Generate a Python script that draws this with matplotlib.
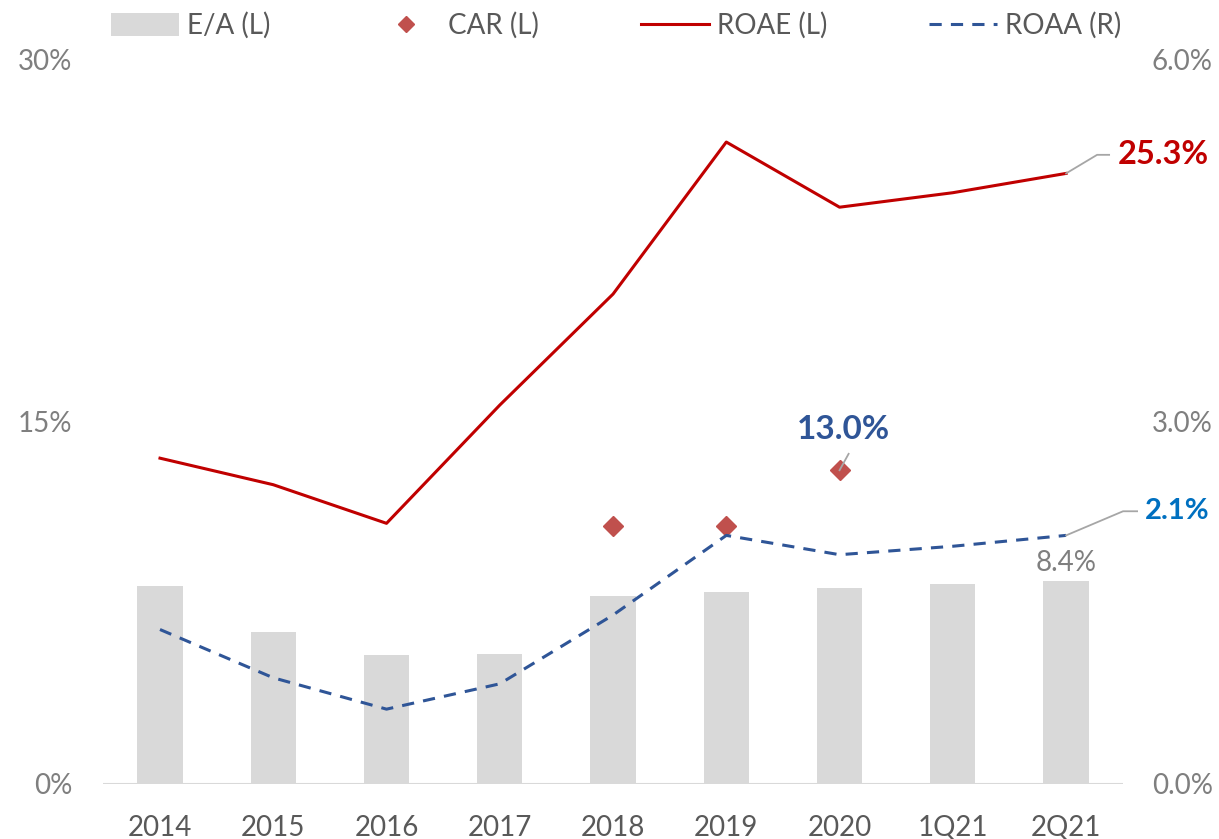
import matplotlib
matplotlib.use("Agg")
import matplotlib.pyplot as plt
from matplotlib.lines import Line2D
from matplotlib.patches import Patch
import numpy as np

plt.rcParams['font.family'] = ['Lato', 'DejaVu Sans']

categories = ["2014", "2015", "2016", "2017", "2018", "2019", "2020", "1Q21", "2Q21"]
ea = [8.2, 6.3, 5.35, 5.4, 7.8, 7.95, 8.1, 8.3, 8.4]
roae = [13.5, 12.4, 10.8, 15.7, 20.3, 26.6, 23.9, 24.5, 25.3]
car = [np.nan, np.nan, np.nan, np.nan, 10.7, 10.7, 13.0, np.nan, np.nan]
roaa = [1.28, 0.88, 0.62, 0.83, 1.40, 2.06, 1.90, 1.97, 2.06]
left_ticks = [0, 15, 30]
left_labels = ["0%", "15%", "30%"]
right_ticks = [0, 3, 6]
right_labels = ["0.0%", "3.0%", "6.0%"]

grey_txt = "#7f7f7f"
fig = plt.figure(figsize=(12.19, 8.39), dpi=100)
ax = fig.add_axes([0.0848, 0.0656, 0.8362, 0.8629])
ax2 = ax.twinx()

x = np.arange(len(categories))
ax.bar(x, ea, width=0.4, color="#d9d9d9", zorder=1)
ax.plot(x, roae, color="#c00000", lw=2.2, zorder=3)
ax.plot(x, car, linestyle="none", marker="D", color="#c0504d", markersize=10, zorder=4)
ax2.plot(x, roaa, color="#2f5597", lw=2.2, linestyle=(0, (4, 3)), zorder=3)

ax.set_xlim(-0.5, len(categories) - 0.5)
ax.set_ylim(0, 30)
ax2.set_ylim(0, 6)
ax.set_yticks(left_ticks)
ax.set_yticklabels(left_labels)
ax2.set_yticks(right_ticks)
ax2.set_yticklabels(right_labels)
ax.set_xticks(x)
ax.set_xticklabels(categories)

for a in (ax, ax2):
    for s in a.spines.values():
        s.set_visible(False)
    a.tick_params(length=0, labelsize=20, labelcolor=grey_txt)
ax.tick_params(axis='x', labelcolor="#595959", pad=22)
ax.tick_params(axis='y', pad=22.5)
ax2.tick_params(axis='y', pad=21)
ax.axhline(0, color="#d9d9d9", lw=1.5, zorder=2)

# annotations
ax.text(8.46, 26.07, "25.3%", color="#c00000", fontsize=23.5, fontweight="bold",
        va="center", ha="left")
ax.plot([8, 8.274, 8.38], [roae[8], 26.07, 26.07], color="#a6a6a6", lw=1.3,
        clip_on=False, zorder=5)

ax2.text(8.70, 2.26, "2.1%", color="#0070c0", fontsize=21, fontweight="bold",
         va="center", ha="left")
ax2.plot([8, 8.503, 8.627], [roaa[8], 2.26, 2.26], color="#a6a6a6", lw=1.3,
         clip_on=False, zorder=5)

ax.text(6.03, 14.7, "13.0%", color="#2f5597", fontsize=24, fontweight="bold",
        ha="center", va="center")
ax.plot([6, 6.08], [car[6], 13.68], color="#a6a6a6", lw=1.3, zorder=5)

ax.text(8, ea[8] + 0.2, "8.4%", color=grey_txt, fontsize=20, ha="center", va="bottom")

handles = [Patch(facecolor="#d9d9d9", edgecolor="none"),
           Line2D([], [], linestyle="none", marker="D", color="#c0504d", markersize=8),
           Line2D([], [], color="#c00000", lw=2.2),
           Line2D([], [], color="#2f5597", lw=2.2, linestyle=(0, (4, 3)))]
labels = ["E/A (L)", "CAR (L)", "ROAE (L)", "ROAA (R)"]
fig.legend(handles, labels, loc="upper left", bbox_to_anchor=(97 / 1219, 1.002), ncol=4,
           frameon=False, fontsize=20, labelcolor="#595959", handlelength=2.45,
           handleheight=0.9, columnspacing=3.65, handletextpad=0.3, borderpad=0)

fig.savefig("out.png", dpi=100)
